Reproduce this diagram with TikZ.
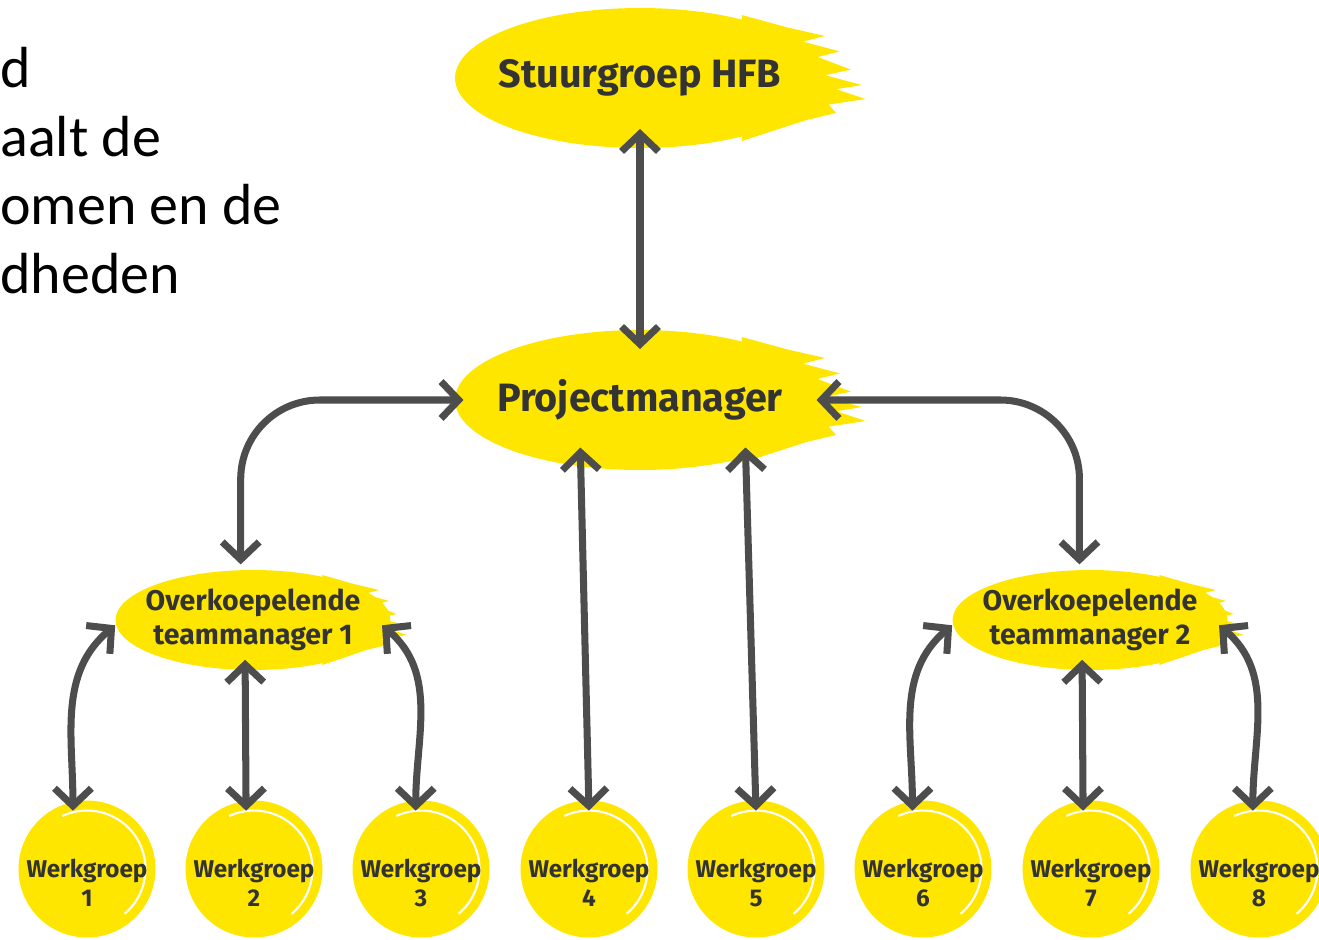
\documentclass[tikz,border=0pt]{standalone}
\usepackage{fontspec}
\setmainfont{Carlito}
\newfontfamily\hfbfont{Fira Sans}
\usetikzlibrary{arrows.meta}
\usetikzlibrary{shapes.geometric}

\definecolor{hfbyellow}{HTML}{FFE600}
\definecolor{hfbgray}{HTML}{4D4D4D}
\definecolor{hfbtext}{HTML}{333333}

\pgfdeclarelayer{background}
\pgfsetlayers{background,main}

% ragged right edge of a brush blob
\newcommand{\brushtail}[3]{%
	\fill[hfbyellow,shift={(#1.center)},xscale=#2,yscale=#3]
		(0.55,-0.90) -- (0.80,-0.72) -- (1.00,-0.60) -- (0.88,-0.52) -- (1.08,-0.38) -- (0.96,-0.30)
		-- (1.14,-0.12) -- (1.00,-0.04) -- (1.20,0.10) -- (1.06,0.16) -- (1.22,0.30) -- (1.02,0.38)
		-- (1.06,0.50) -- (0.90,0.60) -- (0.55,0.90) -- cycle;}
% text of a werkgroep circle, set a little below the centre
\newcommand{\wgtext}[1]{\rule{0pt}{26pt}Werkgroep\\#1}

\tikzset{
	bigblob/.style={ellipse,fill=hfbyellow,inner xsep=-8pt,inner ysep=0pt,minimum width=7.4cm,minimum height=2.8cm,
		text=hfbtext,font=\hfbfont\bfseries\fontsize{22.5}{26}\selectfont},
	teamblob/.style={ellipse,fill=hfbyellow,inner xsep=-7pt,inner ysep=0pt,minimum width=5.5cm,minimum height=2cm,
		align=center,text=hfbtext,font=\hfbfont\bfseries\fontsize{16.2}{19.5}\selectfont},
	wgroep/.style={circle,fill=hfbyellow,inner sep=-4pt,minimum size=2.74cm,align=center,
		text=hfbtext,font=\hfbfont\bfseries\fontsize{13.8}{16.5}\selectfont,
		path picture={\draw[white,line width=1.2pt] (path picture bounding box.center) ++(115:1.17cm)
			arc[start angle=115,end angle=-50,radius=1.17cm];}},
	link/.style={draw=hfbgray,line width=4pt,
		{Straight Barb[length=10pt,width=21pt]}-{Straight Barb[length=10pt,width=21pt]}}
}

\begin{document}
\begin{tikzpicture}[x=0.02cm,y=-0.02cm]
	\useasboundingbox (0,0) rectangle (1319,940);

	\node[anchor=north west,inner sep=0pt,align=left,font=\fontsize{33}{39}\selectfont] (intro) at (0,47)
		{d\\aalt de\\omen en de\\dheden};

	\node[bigblob](stuur) at (640,78) {Stuurgroep HFB};
	\node[bigblob](pm) at (640,400) {Projectmanager};
	\node[teamblob](tm1) at (253,620) {Overkoepelende\\teammanager 1};
	\node[teamblob](tm2) at (1090,620) {Overkoepelende\\teammanager 2};

	\node[wgroep](wg1) at (87,869) {\wgtext{1}};
	\node[wgroep](wg2) at (254,869) {\wgtext{2}};
	\node[wgroep](wg3) at (421,869) {\wgtext{3}};
	\node[wgroep](wg4) at (589,869) {\wgtext{4}};
	\node[wgroep](wg5) at (756,869) {\wgtext{5}};
	\node[wgroep](wg6) at (923,869) {\wgtext{6}};
	\node[wgroep](wg7) at (1091,869) {\wgtext{7}};
	\node[wgroep](wg8) at (1259,869) {\wgtext{8}};

	\begin{pgfonlayer}{background}
		\brushtail{stuur}{185}{70}
		\brushtail{pm}{185}{70}
		\brushtail{tm1}{126}{50}
		\brushtail{tm2}{126}{50}
	\end{pgfonlayer}

	\draw[link] ([yshift=11pt]stuur.south) -- ([yshift=-11pt]pm.north);
	\draw[link,rounded corners=45pt] ([xshift=-7pt,yshift=3pt]tm1.north) |- ([xshift=5pt]pm.west);
	\draw[link,rounded corners=45pt] ([xshift=-5pt]pm.east) -| ([xshift=-6pt,yshift=3pt]tm2.north);
	\draw[link] ([xshift=-34pt,yshift=13pt]pm.south) -- ([yshift=-6pt]wg4.north);
	\draw[link] ([xshift=60pt,yshift=13pt]pm.south) -- ([yshift=-6pt]wg5.north);

	\draw[link] ([xshift=-8pt,yshift=-6pt]wg1.north) to[out=90,in=220] ([yshift=-3pt]tm1.west);
	\draw[link] ([xshift=-4.5pt,yshift=6pt]tm1.south) -- ([xshift=-4.5pt,yshift=-6pt]wg2.north);
	\draw[link] ([xshift=-3pt,yshift=-6pt]wg3.north) to[out=90,in=-40] ([xshift=-5pt,yshift=-3pt]tm1.east);

	\draw[link] ([xshift=-6pt,yshift=-6pt]wg6.north) to[out=90,in=220] ([yshift=-3pt]tm2.west);
	\draw[link] ([xshift=-4.5pt,yshift=6pt]tm2.south) -- ([xshift=-4.5pt,yshift=-6pt]wg7.north);
	\draw[link] ([xshift=-3.5pt,yshift=-6pt]wg8.north) to[out=90,in=-40] ([xshift=-5pt,yshift=-3pt]tm2.east);
\end{tikzpicture}
\end{document}
